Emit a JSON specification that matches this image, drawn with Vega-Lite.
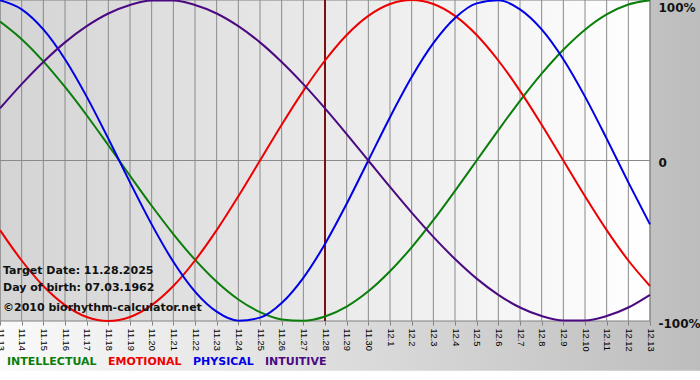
{
  "$schema": "https://vega.github.io/schema/vega-lite/v6.json",
  "width": 650,
  "height": 321,
  "autosize": {"type": "none"},
  "padding": {"left": 0, "top": 0, "right": 50, "bottom": 59},
  "background": "#ffffff",
  "config": {"view": {"stroke": null}},
  "datasets": {
    "bio": [
      {"date": "2025-11-13", "INTELLECTUAL": 86.6, "EMOTIONAL": -43.4, "PHYSICAL": 99.8, "INTUITIVE": 32.5},
      {"date": "2025-11-14", "INTELLECTUAL": 75.6, "EMOTIONAL": -62.3, "PHYSICAL": 94.2, "INTUITIVE": 47.6},
      {"date": "2025-11-15", "INTELLECTUAL": 61.8, "EMOTIONAL": -78.2, "PHYSICAL": 81.7, "INTUITIVE": 61.4},
      {"date": "2025-11-16", "INTELLECTUAL": 45.8, "EMOTIONAL": -90.1, "PHYSICAL": 63.1, "INTUITIVE": 73.6},
      {"date": "2025-11-17", "INTELLECTUAL": 28.2, "EMOTIONAL": -97.5, "PHYSICAL": 39.8, "INTUITIVE": 83.7},
      {"date": "2025-11-18", "INTELLECTUAL": 9.5, "EMOTIONAL": -100, "PHYSICAL": 13.6, "INTUITIVE": 91.6},
      {"date": "2025-11-19", "INTELLECTUAL": -9.5, "EMOTIONAL": -97.5, "PHYSICAL": -13.6, "INTUITIVE": 96.9},
      {"date": "2025-11-20", "INTELLECTUAL": -28.2, "EMOTIONAL": -90.1, "PHYSICAL": -39.8, "INTUITIVE": 99.7},
      {"date": "2025-11-21", "INTELLECTUAL": -45.8, "EMOTIONAL": -78.2, "PHYSICAL": -63.1, "INTUITIVE": 99.7},
      {"date": "2025-11-22", "INTELLECTUAL": -61.8, "EMOTIONAL": -62.3, "PHYSICAL": -81.7, "INTUITIVE": 96.9},
      {"date": "2025-11-23", "INTELLECTUAL": -75.6, "EMOTIONAL": -43.4, "PHYSICAL": -94.2, "INTUITIVE": 91.6},
      {"date": "2025-11-24", "INTELLECTUAL": -86.6, "EMOTIONAL": -22.3, "PHYSICAL": -99.8, "INTUITIVE": 83.7},
      {"date": "2025-11-25", "INTELLECTUAL": -94.5, "EMOTIONAL": 0, "PHYSICAL": -97.9, "INTUITIVE": 73.6},
      {"date": "2025-11-26", "INTELLECTUAL": -99.0, "EMOTIONAL": 22.3, "PHYSICAL": -88.8, "INTUITIVE": 61.4},
      {"date": "2025-11-27", "INTELLECTUAL": -99.9, "EMOTIONAL": 43.4, "PHYSICAL": -73.1, "INTUITIVE": 47.6},
      {"date": "2025-11-28", "INTELLECTUAL": -97.2, "EMOTIONAL": 62.3, "PHYSICAL": -52.0, "INTUITIVE": 32.5},
      {"date": "2025-11-29", "INTELLECTUAL": -91.0, "EMOTIONAL": 78.2, "PHYSICAL": -27.0, "INTUITIVE": 16.5},
      {"date": "2025-11-30", "INTELLECTUAL": -81.5, "EMOTIONAL": 90.1, "PHYSICAL": 0, "INTUITIVE": 0},
      {"date": "2025-12-01", "INTELLECTUAL": -69.0, "EMOTIONAL": 97.5, "PHYSICAL": 27.0, "INTUITIVE": -16.5},
      {"date": "2025-12-02", "INTELLECTUAL": -54.1, "EMOTIONAL": 100, "PHYSICAL": 52.0, "INTUITIVE": -32.5},
      {"date": "2025-12-03", "INTELLECTUAL": -37.2, "EMOTIONAL": 97.5, "PHYSICAL": 73.1, "INTUITIVE": -47.6},
      {"date": "2025-12-04", "INTELLECTUAL": -18.9, "EMOTIONAL": 90.1, "PHYSICAL": 88.8, "INTUITIVE": -61.4},
      {"date": "2025-12-05", "INTELLECTUAL": 0, "EMOTIONAL": 78.2, "PHYSICAL": 97.9, "INTUITIVE": -73.6},
      {"date": "2025-12-06", "INTELLECTUAL": 18.9, "EMOTIONAL": 62.3, "PHYSICAL": 99.8, "INTUITIVE": -83.7},
      {"date": "2025-12-07", "INTELLECTUAL": 37.2, "EMOTIONAL": 43.4, "PHYSICAL": 94.2, "INTUITIVE": -91.6},
      {"date": "2025-12-08", "INTELLECTUAL": 54.1, "EMOTIONAL": 22.3, "PHYSICAL": 81.7, "INTUITIVE": -96.9},
      {"date": "2025-12-09", "INTELLECTUAL": 69.0, "EMOTIONAL": 0, "PHYSICAL": 63.1, "INTUITIVE": -99.7},
      {"date": "2025-12-10", "INTELLECTUAL": 81.5, "EMOTIONAL": -22.3, "PHYSICAL": 39.8, "INTUITIVE": -99.7},
      {"date": "2025-12-11", "INTELLECTUAL": 91.0, "EMOTIONAL": -43.4, "PHYSICAL": 13.6, "INTUITIVE": -96.9},
      {"date": "2025-12-12", "INTELLECTUAL": 97.2, "EMOTIONAL": -62.3, "PHYSICAL": -13.6, "INTUITIVE": -91.6},
      {"date": "2025-12-13", "INTELLECTUAL": 99.9, "EMOTIONAL": -78.2, "PHYSICAL": -39.8, "INTUITIVE": -83.7}
    ]
  },
  "encoding": {
    "x": {
      "type": "temporal",
      "scale": {"type": "utc", "nice": false, "domain": [{"year": 2025, "month": 11, "date": 13, "utc": true}, {"year": 2025, "month": 12, "date": 13, "utc": true}]},
      "axis": {
        "orient": "bottom", "title": null, "grid": false, "domain": false,
        "ticks": true, "tickSize": 4, "tickColor": "#808080",
        "tickCount": {"interval": "day", "step": 1},
        "format": "%-m.%-d", "labelAngle": 90, "labelPadding": 3,
        "labelFont": "Liberation Sans", "labelFontSize": 9.2, "labelColor": "#000000",
        "labelOverlap": false, "labelBound": false, "labelFlush": false, "zindex": 1
      }
    },
    "y": {
      "type": "quantitative",
      "scale": {"domain": [-100, 100], "nice": false, "zero": false},
      "axis": {
        "orient": "right", "title": null, "grid": false, "domain": false, "ticks": false,
        "values": [-100, 0, 100],
        "labelExpr": "datum.value == 0 ? '0' : datum.value + '%'",
        "labelPadding": 8, "labelOffset": 2,
        "labelBaseline": {"condition": {"test": "datum.value == 100", "value": "top"}, "value": "middle"},
        "labelFont": "DejaVu Sans", "labelFontWeight": "bold", "labelFontSize": 12, "labelColor": "#111111",
        "labelFlush": false, "labelBound": false, "labelOverlap": false, "zindex": 1
      }
    }
  },
  "layer": [
    {
      "data": {"values": [{}]},
      "mark": {"type": "rect", "color": {"gradient": "linear", "x1": 0, "x2": 1, "y1": 0, "y2": 0, "stops": [{"offset": 0, "color": "#fafafa"}, {"offset": 1, "color": "#bdbdbd"}]}},
      "encoding": {
        "x": {"datum": {"year": 2025, "month": 11, "date": 13, "utc": true}, "type": "temporal"},
        "x2": {"datum": {"year": 2025, "month": 12, "date": 15, "hours": 8, "utc": true}},
        "y": {"datum": 100},
        "y2": {"datum": -131}
      }
    },
    {
      "data": {"values": [{}]},
      "mark": {"type": "rect", "stroke": "#808080", "strokeWidth": 1, "color": {"gradient": "linear", "x1": 0, "x2": 1, "y1": 0, "y2": 0, "stops": [{"offset": 0, "color": "#d4d4d4"}, {"offset": 1, "color": "#ffffff"}]}},
      "encoding": {
        "x": {"datum": {"year": 2025, "month": 11, "date": 13, "utc": true}, "type": "temporal"},
        "x2": {"datum": {"year": 2025, "month": 12, "date": 13, "utc": true}},
        "y": {"datum": 100},
        "y2": {"datum": -100}
      }
    },
    {
      "data": {"name": "bio"},
      "mark": {"type": "rule", "color": "#8a8a8a", "strokeWidth": 1},
      "encoding": {
        "x": {"field": "date", "type": "temporal"},
        "y": {"datum": 100},
        "y2": {"datum": -100}
      }
    },
    {
      "data": {"values": [{}]},
      "mark": {"type": "rule", "color": "#8a8a8a", "strokeWidth": 1},
      "encoding": {
        "y": {"datum": 0}
      }
    },
    {
      "data": {"values": [{}]},
      "mark": {"type": "rule", "color": "#7a1010", "strokeWidth": 2},
      "encoding": {
        "x": {"datum": {"year": 2025, "month": 11, "date": 28, "utc": true}, "type": "temporal"},
        "y": {"datum": 100},
        "y2": {"datum": -100}
      }
    },
    {
      "data": {"name": "bio"},
      "transform": [{"fold": ["INTELLECTUAL", "EMOTIONAL", "PHYSICAL", "INTUITIVE"], "as": ["series", "value"]}],
      "mark": {"type": "line", "strokeWidth": 2, "interpolate": "monotone"},
      "encoding": {
        "x": {"field": "date", "type": "temporal"},
        "y": {"field": "value", "type": "quantitative"},
        "color": {
          "field": "series", "type": "nominal",
          "scale": {"domain": ["INTELLECTUAL", "EMOTIONAL", "PHYSICAL", "INTUITIVE"], "range": ["#0a7d0a", "#ee0000", "#0000e6", "#4b0a82"]},
          "legend": {
            "orient": "none", "legendX": -4, "legendY": 356, "direction": "horizontal", "title": null,
            "symbolSize": 0, "symbolStrokeWidth": 0, "symbolOpacity": 0, "labelOffset": 0, "columnPadding": 0,
            "labelFont": "DejaVu Sans", "labelFontWeight": "bold", "labelFontSize": 11,
            "labelColor": {"expr": "scale('color', datum.value)"}
          }
        }
      }
    },
    {
      "data": {"values": [{}]},
      "mark": {"type": "text", "text": "Target Date: 11.28.2025", "align": "left", "baseline": "alphabetic", "dx": 3, "font": "DejaVu Sans", "fontWeight": "bold", "fontSize": 11, "color": "#111111"},
      "encoding": {
        "x": {"datum": {"year": 2025, "month": 11, "date": 13, "utc": true}, "type": "temporal"},
        "y": {"datum": -71.0}
      }
    },
    {
      "data": {"values": [{}]},
      "mark": {"type": "text", "text": "Day of birth: 07.03.1962", "align": "left", "baseline": "alphabetic", "dx": 3, "font": "DejaVu Sans", "fontWeight": "bold", "fontSize": 11, "color": "#111111"},
      "encoding": {
        "x": {"datum": {"year": 2025, "month": 11, "date": 13, "utc": true}, "type": "temporal"},
        "y": {"datum": -81.3}
      }
    },
    {
      "data": {"values": [{}]},
      "mark": {"type": "text", "text": "©2010 biorhythm-calculator.net", "align": "left", "baseline": "alphabetic", "dx": 3, "font": "DejaVu Sans", "fontWeight": "bold", "fontSize": 11, "color": "#111111"},
      "encoding": {
        "x": {"datum": {"year": 2025, "month": 11, "date": 13, "utc": true}, "type": "temporal"},
        "y": {"datum": -93.8}
      }
    }
  ]
}
